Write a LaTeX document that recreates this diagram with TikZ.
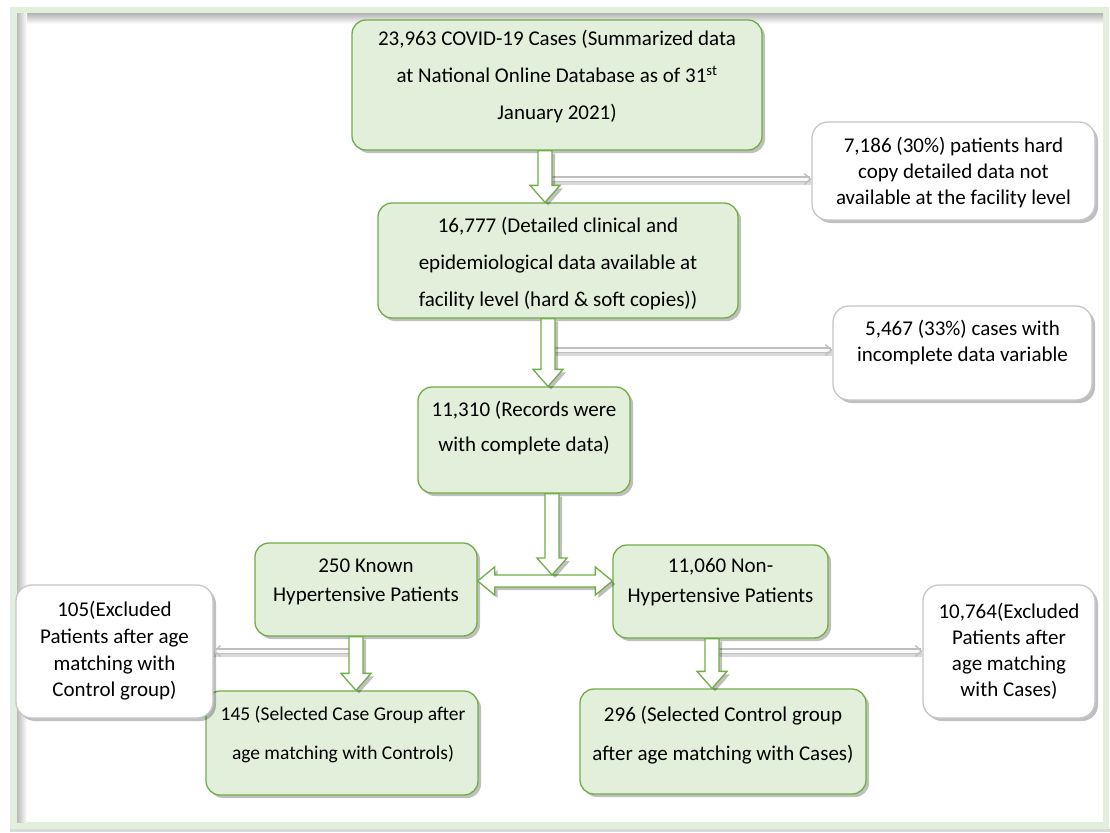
\documentclass[tikz,border=0pt]{standalone}
\usepackage{fontspec}
\setmainfont{Carlito}
\usetikzlibrary{shadows,arrows.meta,calc}
\definecolor{gfill}{HTML}{E2EFDA}
\definecolor{gline}{HTML}{70AD47}
\newcommand\vblk[2]{%
  \draw[blk] let \p1=(#1), \p2=(#2) in
    (\x1-7pt,\y1) -- (\x1+7pt,\y1) -- (\x1+7pt,\y2+17pt) -- (\x1+15pt,\y2+17pt)
    -- (\x1,\y2) -- (\x1-15pt,\y2+17pt) -- (\x1-7pt,\y2+17pt) -- cycle;}
\newcommand\hdbl[2]{%
  \draw[blk] let \p1=(#1), \p2=(#2) in
    (\x1,\y1) -- (\x1+17pt,\y1+14pt) -- (\x1+17pt,\y1+6pt) -- (\x2-17pt,\y1+6pt)
    -- (\x2-17pt,\y1+14pt) -- (\x2,\y1) -- (\x2-17pt,\y1-14pt) -- (\x2-17pt,\y1-6pt)
    -- (\x1+17pt,\y1-6pt) -- (\x1+17pt,\y1-14pt) -- cycle;}
\begin{document}
\begin{tikzpicture}[x=1pt,y=-1pt,
  shad/.style={drop shadow={shadow xshift=3pt,shadow yshift=-3pt,fill=black,opacity=0.25}},
  gbox/.style={draw=gline,line width=1.3pt,fill=gfill,rounded corners=14pt,shad},
  wbox/.style={draw=gray!45,line width=1.3pt,fill=white,rounded corners=16pt,shad},
  txt/.style={align=center,inner sep=0pt,text=black},
  big/.style={txt,font=\fontsize{21}{37}\selectfont},
  mid/.style={txt,font=\fontsize{21}{29.5}\selectfont},
  sml/.style={txt,font=\fontsize{21}{26}\selectfont},
  blk/.style={draw=gline,line width=1.3pt,fill=white,line join=miter,shad},
  garr/.style={draw=gray!50,double=gray!4,double distance=3pt,line width=1.4pt,
    -{Straight Barb[length=6pt,width=11pt]},
    preaction={draw=black,opacity=0.15,line width=6pt,transform canvas={yshift=-2.5pt},-}},
]
\useasboundingbox (0,0) rectangle (1110,832);
% frame
\fill[gfill] (10,7) rectangle (1109,829);
\fill[white] (17,14) rectangle (1103,822);
\shade[top color=gray!55,bottom color=white] (17,14) rectangle (1103,24);
\shade[left color=gray!55,right color=white] (17,14) rectangle (27,822);
\fill[gray!30] (10,829) rectangle (1110,832);

% green boxes
\node[gbox,minimum width=410,minimum height=130] (b1) at (557,85) {};
\node[gbox,minimum width=360,minimum height=115] (b2) at (558,260.5) {};
\node[gbox,minimum width=212,minimum height=106] (b3) at (524,440) {};
\node[gbox,minimum width=222,minimum height=93] (b4) at (366,589.5) {};
\node[gbox,minimum width=215,minimum height=93] (b5) at (720.5,591.5) {};
\node[gbox,minimum width=272,minimum height=104] (b6) at (342,743) {};
\node[gbox,minimum width=286,minimum height=105] (b7) at (723,741.5) {};
% white boxes
\node[wbox,minimum width=283,minimum height=98] (w1) at (953.5,171) {};
\node[wbox,minimum width=259,minimum height=94] (w2) at (962.5,353) {};
\node[wbox,minimum width=197,minimum height=133] (w3) at (114.5,651.5) {};
\node[wbox,minimum width=172,minimum height=133] (w4) at (1009,651.5) {};

% texts
\node[big] (t1) at (557,77) {23,963 COVID-19 Cases (Summarized data\\at National Online Database as of 31\textsuperscript{st}\\January 2021)};
\node[big] (t2) at (558,264) {16,777 (Detailed clinical and\\epidemiological data available at\\facility level (hard \& soft copies))};
\node[txt,font=\fontsize{21}{35}\selectfont] (t3) at (524,428) {11,310 (Records were\\with complete data)};
\node[mid] (t4) at (366,582) {250 Known\\Hypertensive Patients};
\node[mid] (t5) at (720.5,582) {11,060 Non-\\Hypertensive Patients};
\node[txt,font=\fontsize{19.5}{39}\selectfont] (t6) at (343,735) {145 (Selected Case Group after\\age matching with Controls)};
\node[txt,font=\fontsize{21}{39}\selectfont] (t7) at (723,735) {296 (Selected Control group\\after age matching with Cases)};
\node[sml] (tw1) at (953.5,173) {7,186 (30\%) patients hard\\copy detailed data not\\available at the facility level};
\node[sml] (tw2) at (962.5,343) {5,467 (33\%) cases with\\incomplete data variable};
\node[txt,font=\fontsize{21}{26.7}\selectfont] (tw3) at (114.5,651) {105(Excluded\\Patients after age\\matching with\\Control group)};
\node[txt,font=\fontsize{21}{26}\selectfont] (tw4) at (1009,651) {10,764(Excluded\\Patients after\\age matching\\with Cases)};

% helper coordinates
\coordinate (x1) at (545,0);
\coordinate (x2) at (548,0);
\coordinate (x3) at (552,0);
\coordinate (x4) at (356,0);
\coordinate (x5) at (712,0);
\coordinate (yc) at (0,581);
\coordinate (j) at (552,575);
\coordinate (g1) at (552,179);
\coordinate (g2) at (555,350);
\coordinate (g3) at (355,651);
\coordinate (g4) at (718,651);

% gray side arrows
\draw[garr] (g1) -- (g1 -| w1.west);
\draw[garr] (g2) -- (g2 -| w2.west);
\draw[garr] (g3) -- (g3 -| w3.east);
\draw[garr] (g4) -- (g4 -| w4.west);

% block arrows
\vblk{b1.south -| x1}{b2.north -| x1}
\vblk{b2.south -| x2}{b3.north -| x2}
\hdbl{b4.east |- yc}{b5.west |- yc}
\vblk{b3.south -| x3}{j}
\vblk{b4.south -| x4}{b6.north -| x4}
\vblk{b5.south -| x5}{b7.north -| x5}
\end{tikzpicture}
\end{document}
